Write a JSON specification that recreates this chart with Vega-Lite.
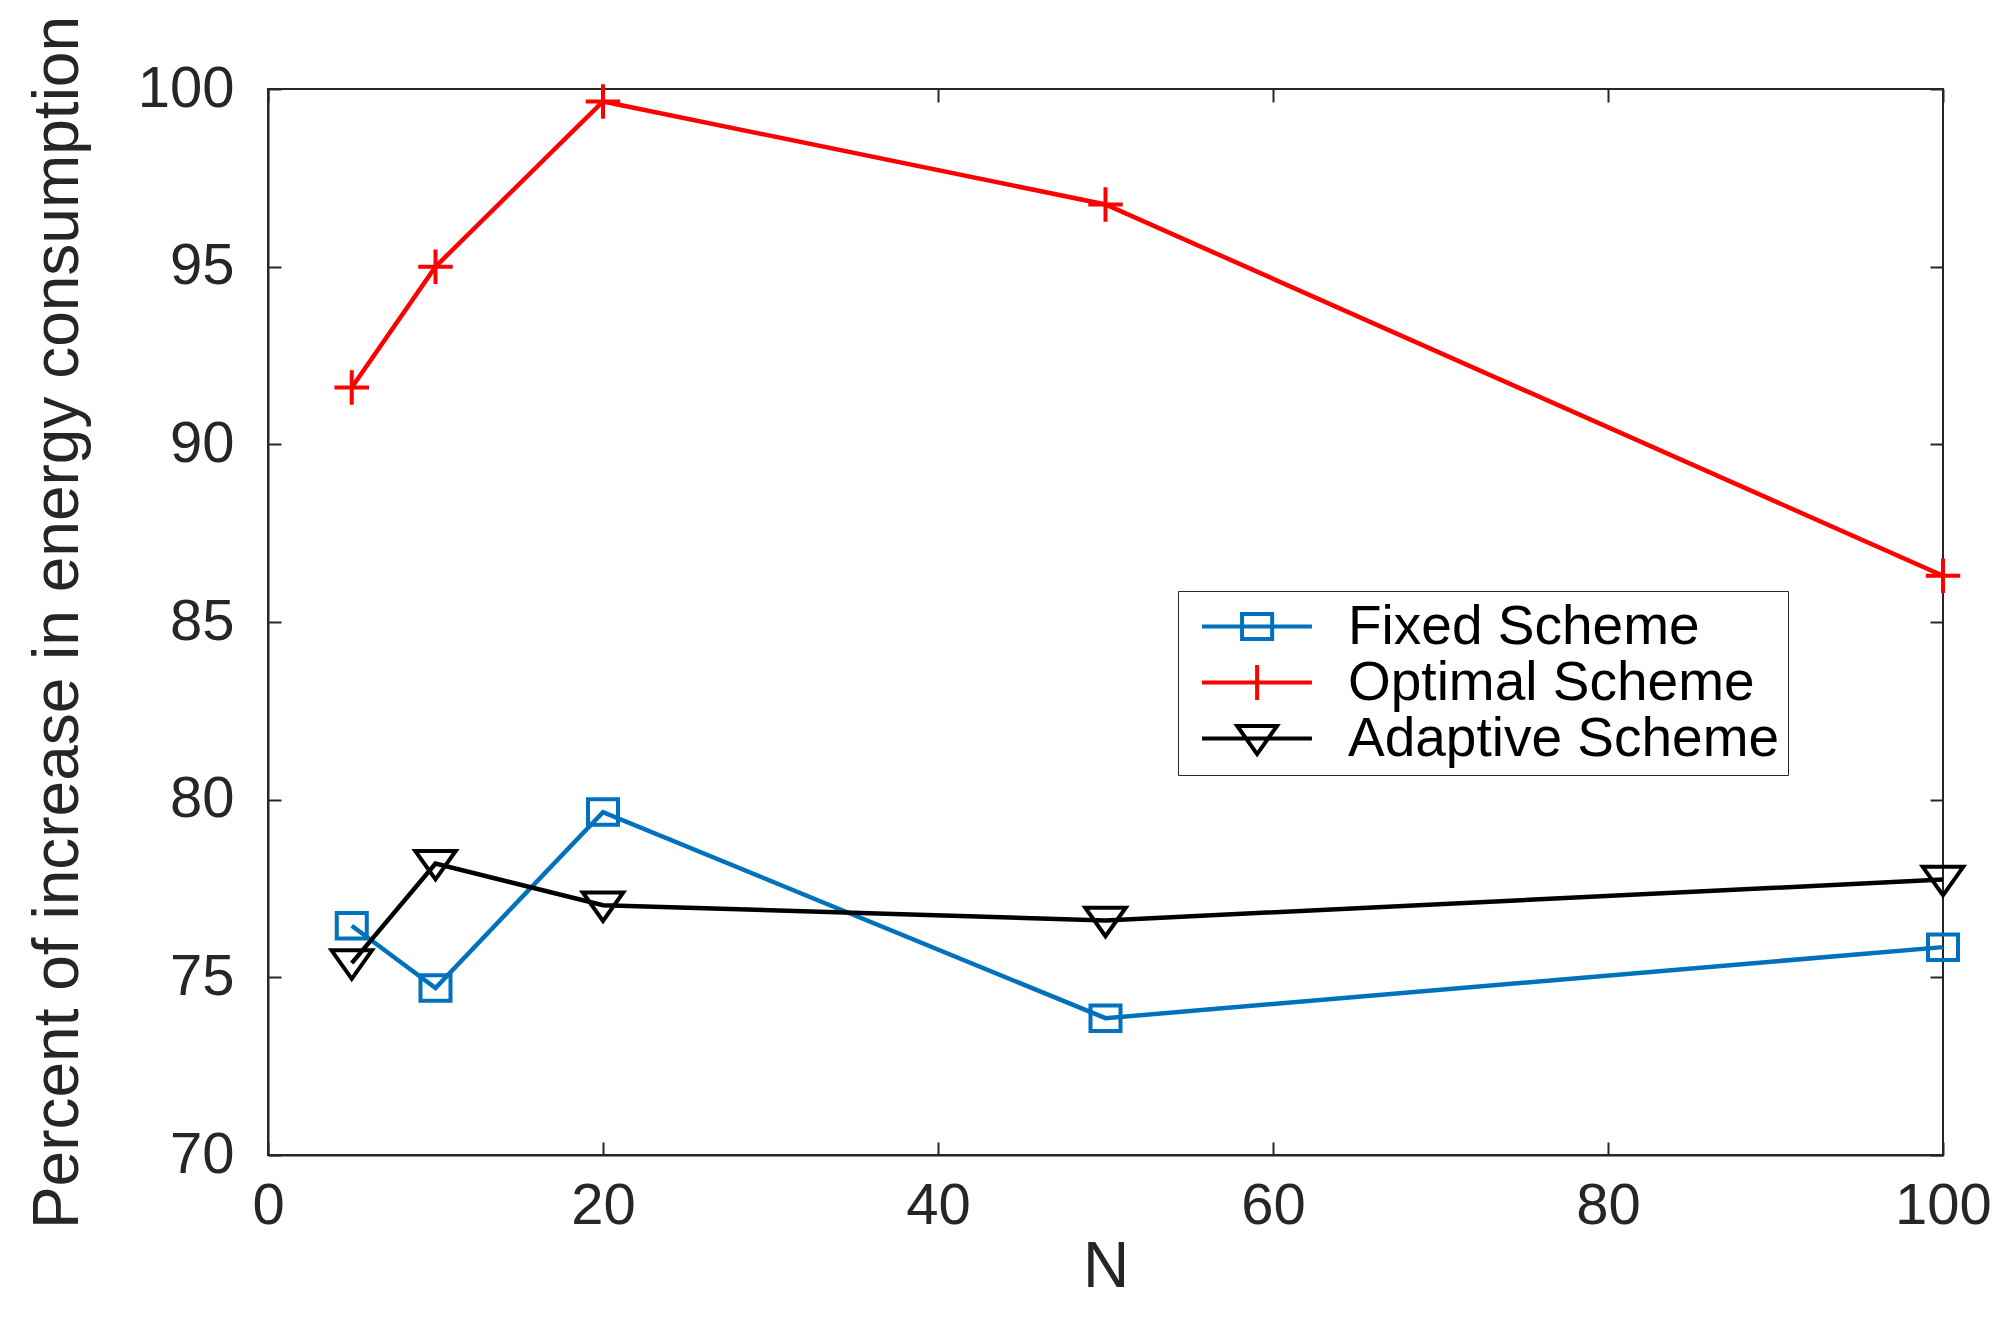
{
  "$schema": "https://vega.github.io/schema/vega-lite/v6.json",
  "autosize": {"type": "none"},
  "width": 1675,
  "height": 1066,
  "padding": {"left": 268, "top": 89, "right": 73, "bottom": 165},
  "background": "white",
  "config": {
    "font": "Liberation Sans",
    "view": {"stroke": "#262626", "strokeWidth": 2},
    "axis": {
      "grid": false,
      "labelFlush": false,
      "domainColor": "#262626",
      "domainWidth": 2,
      "tickColor": "#262626",
      "tickWidth": 2,
      "tickSize": -13,
      "labelColor": "#262626",
      "labelFont": "Liberation Sans",
      "labelFontSize": 58,
      "titleFont": "Liberation Sans",
      "titleColor": "#262626",
      "titleFontWeight": "normal",
      "titleFontSize": 64
    }
  },
  "data": {
    "values": [
      {"N": 5, "value": 76.45, "scheme": "Fixed Scheme"},
      {"N": 10, "value": 74.7, "scheme": "Fixed Scheme"},
      {"N": 20, "value": 79.65, "scheme": "Fixed Scheme"},
      {"N": 50, "value": 73.85, "scheme": "Fixed Scheme"},
      {"N": 100, "value": 75.85, "scheme": "Fixed Scheme"},
      {"N": 5, "value": 91.6, "scheme": "Optimal Scheme"},
      {"N": 10, "value": 95.0, "scheme": "Optimal Scheme"},
      {"N": 20, "value": 99.65, "scheme": "Optimal Scheme"},
      {"N": 50, "value": 96.75, "scheme": "Optimal Scheme"},
      {"N": 100, "value": 86.3, "scheme": "Optimal Scheme"},
      {"N": 5, "value": 75.4, "scheme": "Adaptive Scheme"},
      {"N": 10, "value": 78.2, "scheme": "Adaptive Scheme"},
      {"N": 20, "value": 77.03, "scheme": "Adaptive Scheme"},
      {"N": 50, "value": 76.6, "scheme": "Adaptive Scheme"},
      {"N": 100, "value": 77.75, "scheme": "Adaptive Scheme"}
    ]
  },
  "encoding": {
    "x": {"field": "N", "type": "quantitative", "scale": {"domain": [0, 100], "nice": false, "zero": false}},
    "y": {"field": "value", "type": "quantitative", "scale": {"domain": [70, 100], "nice": false, "zero": false}},
    "color": {
      "field": "scheme", "type": "nominal",
      "scale": {"domain": ["Fixed Scheme", "Optimal Scheme", "Adaptive Scheme"], "range": ["#0072BD", "#FF0000", "#000000"]}
    }
  },
  "resolve": {"axis": {"x": "independent", "y": "independent"}},
  "layer": [
    {
      "mark": {"type": "line", "strokeWidth": 4.5},
      "encoding": {
        "x": {
          "field": "N", "type": "quantitative",
          "axis": {"values": [0, 20, 40, 60, 80, 100], "title": "N", "labelPadding": 35, "titleY": 112, "titleBaseline": "middle"}
        },
        "y": {
          "field": "value", "type": "quantitative",
          "axis": {"values": [70, 75, 80, 85, 90, 95, 100], "title": "Percent of increase in energy consumption", "labelPadding": 47, "titleX": -210, "titleY": 533, "titleAngle": -90, "titleBaseline": "middle", "titleAlign": "center"}
        },
        "color": {
          "field": "scheme", "type": "nominal",
          "legend": {
            "title": null,
            "orient": "none",
            "legendX": 910,
            "legendY": 502,
            "direction": "vertical",
            "strokeColor": "#262626",
            "fillColor": "white",
            "padding": 8,
            "labelFont": "Liberation Sans",
            "labelFontSize": 55,
            "labelLimit": 1000,
            "labelColor": "#000000",
            "labelOffset": 107,
            "rowPadding": 0,
            "symbolSize": 2601,
            "symbolStrokeWidth": 4,
            "symbolFillColor": "transparent",
            "encode": {
              "symbols": {
                "update": {
                  "fill": {"value": "transparent"},
                  "shape": {"signal": "datum.value === 'Fixed Scheme' ? 'M-0.45,0H3.86M1.12,-0.49H2.3V0.49H1.12Z' : datum.value === 'Optimal Scheme' ? 'M-0.45,0H3.86M1.71,-0.69V0.69' : 'M-0.45,0H3.86M0.93,-0.49L2.49,-0.49L1.71,0.61Z'"}
                }
              }
            }
          }
        }
      }
    },
    {
      "transform": [{"filter": "datum.scheme === 'Fixed Scheme'"}],
      "mark": {"type": "point", "filled": false, "opacity": 1, "strokeWidth": 4, "size": 900, "shape": "M-1,-0.85H1V0.85H-1Z"},
      "encoding": {
        "x": {
          "field": "N", "type": "quantitative",
          "axis": {"orient": "top", "values": [0, 20, 40, 60, 80, 100], "labels": false, "title": null, "domain": false}
        },
        "y": {
          "field": "value", "type": "quantitative",
          "axis": {"orient": "right", "values": [70, 75, 80, 85, 90, 95, 100], "labels": false, "title": null, "domain": false}
        },
        "color": {"field": "scheme", "type": "nominal", "legend": null}
      }
    },
    {
      "transform": [{"filter": "datum.scheme === 'Optimal Scheme'"}],
      "mark": {"type": "point", "filled": false, "opacity": 1, "strokeWidth": 4, "size": 900, "shape": "M-1.15,0H1.15M0,-1.15V1.15"},
      "encoding": {
        "x": {"field": "N", "type": "quantitative", "axis": null},
        "y": {"field": "value", "type": "quantitative", "axis": null},
        "color": {"field": "scheme", "type": "nominal", "legend": null}
      }
    },
    {
      "transform": [{"filter": "datum.scheme === 'Adaptive Scheme'"}],
      "mark": {"type": "point", "filled": false, "opacity": 1, "strokeWidth": 4, "size": 900, "shape": "M-1.35,-0.85L1.35,-0.85L0,1.05Z"},
      "encoding": {
        "x": {"field": "N", "type": "quantitative", "axis": null},
        "y": {"field": "value", "type": "quantitative", "axis": null},
        "color": {"field": "scheme", "type": "nominal", "legend": null}
      }
    }
  ]
}
